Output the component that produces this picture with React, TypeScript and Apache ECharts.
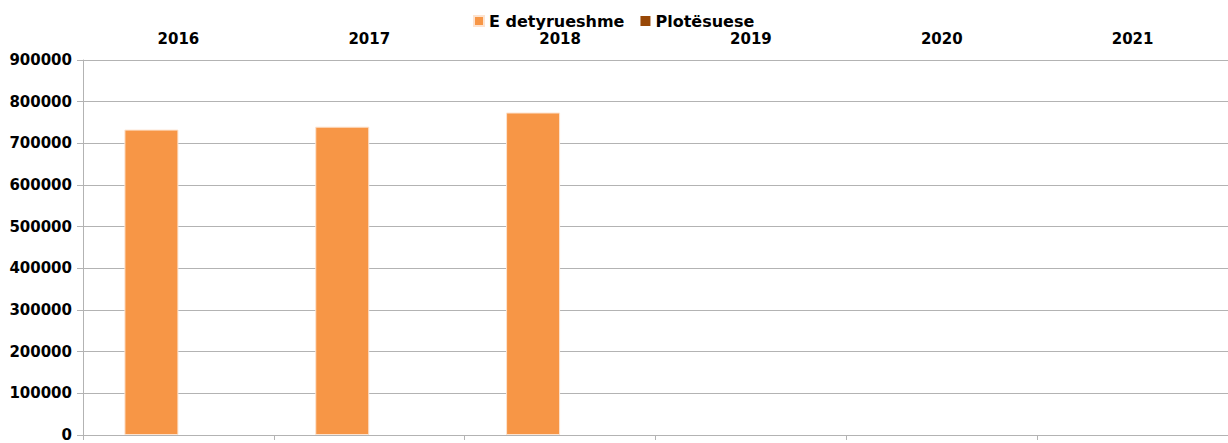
import React, { useEffect, useRef } from "react";
import * as echarts from "echarts";

const categories = ["2016", "2017", "2018", "2019", "2020", "2021"];
const seriesNames = ["E detyrueshme", "Plotësuese"];
const detyrueshme: (number | null)[] = [733000, 740000, 774000, null, null, null];
const plotesuese: (number | null)[] = [null, null, null, null, null, null];

export default function App() {
  const ref = useRef<HTMLDivElement>(null);
  useEffect(() => {
    if (!ref.current) return;
    const chart = echarts.init(ref.current, null, { renderer: "svg" });
    const font = "DejaVu Sans";
    chart.setOption({
      animation: false,
      backgroundColor: "#ffffff",
      textStyle: { fontFamily: font },
      legend: {
        top: 8,
        left: 468,
        itemWidth: 10,
        itemHeight: 10,
        itemGap: 16,
        icon: "rect",
        textStyle: { fontFamily: font, fontWeight: "bold", fontSize: 16, color: "#000" },
        data: seriesNames,
      },
      grid: { left: 83, right: 0, top: 60, bottom: 8, containLabel: false },
      xAxis: [
        {
          type: "category",
          data: categories,
          position: "top",
          axisLine: { show: false },
          axisTick: { show: false },
          axisLabel: { fontFamily: font, fontWeight: "bold", fontSize: 15, color: "#000", margin: 14 },
        },
        {
          type: "category",
          data: categories,
          position: "bottom",
          axisLine: { show: true, lineStyle: { color: "#b3b3b3", width: 1 } },
          axisTick: { show: true, alignWithLabel: false, length: 5, lineStyle: { color: "#b3b3b3" } },
          axisLabel: { show: false },
        },
      ],
      yAxis: {
        type: "value",
        min: 0,
        max: 900000,
        interval: 100000,
        axisLine: { show: true, lineStyle: { color: "#b3b3b3", width: 1 } },
        axisTick: { show: true, length: 6, lineStyle: { color: "#b3b3b3" } },
        axisLabel: {
          fontFamily: font,
          fontWeight: "bold",
          fontSize: 15,
          color: "#000",
          margin: 11,
          formatter: (v: number) => String(v),
        },
        splitLine: { show: true, lineStyle: { color: "#b3b3b3", width: 1 } },
      },
      series: [
        {
          name: seriesNames[0],
          type: "bar",
          xAxisIndex: 0,
          data: detyrueshme,
          barWidth: 54,
          barGap: "0%",
          itemStyle: { color: "#F79646", borderColor: "#fde3cf", borderWidth: 1 },
        },
        {
          name: seriesNames[1],
          type: "bar",
          xAxisIndex: 0,
          data: plotesuese,
          barWidth: 54,
          barGap: "0%",
          itemStyle: { color: "#984807" },
        },
      ],
    });
    return () => chart.dispose();
  }, []);
  return (
    <div
      ref={ref}
      style={{ position: "fixed", left: 0, top: 0, width: 1228, height: 443, background: "#fff" }}
    />
  );
}
